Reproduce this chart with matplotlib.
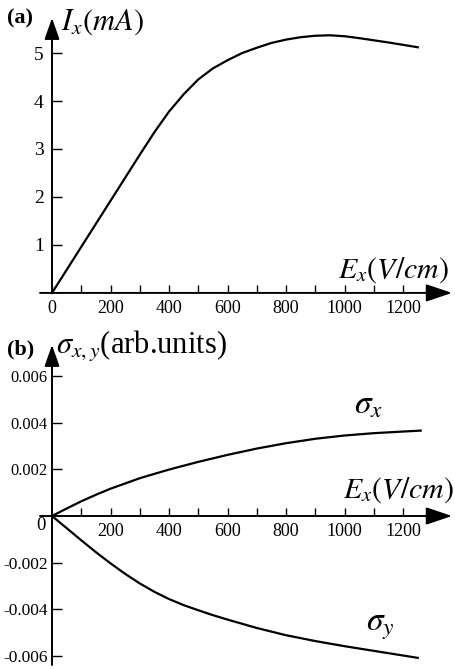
import matplotlib
matplotlib.use("Agg")
import matplotlib.pyplot as plt

plt.rcParams['font.family'] = ['Liberation Serif', 'DejaVu Serif']
plt.rcParams['mathtext.fontset'] = 'stix'

# Panel (a): current vs. field
field_a = [0, 50, 100, 150, 200, 250, 300, 350, 400, 450, 500, 550, 600, 650, 700,
           750, 800, 850, 900, 950, 1000, 1050, 1100, 1150, 1200, 1250]
current = [0, 0.48, 0.96, 1.44, 1.92, 2.40, 2.88, 3.35, 3.78, 4.14, 4.45, 4.68, 4.85,
           5.00, 5.11, 5.21, 5.28, 5.33, 5.36, 5.37, 5.35, 5.31, 5.265, 5.22, 5.17, 5.12]

# Panel (b): conductivities vs. field
field_bx = [0, 50, 100, 150, 200, 300, 400, 500, 600, 700, 800, 900, 1000, 1100, 1200, 1260]
sigma_x = [0, 0.00032, 0.00063, 0.00091, 0.00117, 0.00162, 0.00199, 0.00232, 0.00262,
           0.00289, 0.00312, 0.00331, 0.00345, 0.00355, 0.00362, 0.00366]
field_by = [0, 50, 100, 150, 200, 250, 300, 350, 400, 450, 500, 550, 600, 700, 800,
            900, 1000, 1100, 1200, 1250]
sigma_y = [0, -0.00052, -0.00104, -0.00155, -0.00203, -0.00248, -0.00289, -0.00325,
           -0.00356, -0.00382, -0.00404, -0.00425, -0.00444, -0.00480, -0.00511,
           -0.00536, -0.00558, -0.00578, -0.00598, -0.00608]

xticks_major = [0, 200, 400, 600, 800, 1000, 1200]
xticks_minor = [100, 300, 500, 700, 900, 1100]
yticks_a = [1, 2, 3, 4, 5]
yticks_b = [-0.006, -0.004, -0.002, 0.002, 0.004, 0.006]
yticklabels_b = ['-0.006', '-0.004', '-0.002', '0.002', '0.004', '0.006']

W, H = 456, 670
fig = plt.figure(figsize=(W / 100, H / 100), dpi=100)


def px_axes(x0, x1, ytop, ybot):
    return fig.add_axes([x0 / W, 1 - ybot / H, (x1 - x0) / W, (ybot - ytop) / H])


def fig_text(x, y, s, **kw):
    fig.text(x / W, 1 - y / H, s, **kw)


XLIM = (-41, 1367)
LW_AX = 1.4
ARROW_X = dict(arrowstyle='-|>,head_length=0.8,head_width=0.27', mutation_scale=20,
               lw=LW_AX, color='k', shrinkA=0, shrinkB=0)
ARROW_Y = dict(arrowstyle='-|>,head_length=0.65,head_width=0.23', mutation_scale=20,
               lw=LW_AX, color='k', shrinkA=0, shrinkB=0)


def style_axes(ax, ylim, ybottom):
    ax.set_xlim(*XLIM)
    ax.set_ylim(*ylim)
    for s in ('top', 'right'):
        ax.spines[s].set_visible(False)
    ax.patch.set_alpha(0)
    # axis lines with arrowheads
    ax.annotate('', xy=(XLIM[1], 0), xytext=(XLIM[0], 0), arrowprops=ARROW_X,
                annotation_clip=False)
    ax.annotate('', xy=(0, ylim[1]), xytext=(0, ybottom), arrowprops=ARROW_Y,
                annotation_clip=False)
    ax.spines['left'].set_position(('data', 0))
    ax.spines['bottom'].set_position(('data', 0))
    ax.spines['left'].set_visible(False)
    ax.spines['bottom'].set_visible(False)
    ax.set_xticks(xticks_minor, minor=True)
    ax.tick_params(axis='x', which='both', direction='in', length=6, width=1.0,
                   labelsize=13, pad=5)
    ax.tick_params(axis='y', which='both', direction='in', length=7, width=1.0)


# ---- panel (a)
ax_a = px_axes(40, 452, 18, 303)
style_axes(ax_a, (-0.21, 5.73), 0)
ax_a.plot(field_a, current, color='k', lw=1.6)
ax_a.set_xticks(xticks_major)
ax_a.set_xticklabels([str(v) for v in xticks_major])
ax_a.set_yticks(yticks_a)
ax_a.set_yticklabels([str(v) for v in yticks_a])
ax_a.tick_params(axis='y', labelsize=14, pad=6)

fig_text(7, 23, '(a)', fontsize=16, fontweight='bold', va='baseline')
fig_text(61, 30, r'$I_x(mA)$', fontsize=22, va='baseline')
fig_text(338, 278, r'$E_x(V/cm)$', fontsize=21.5, va='baseline')

# ---- panel (b)
y0_px, scale = 516.0, 23333.0
top_b, bot_b = 345, 665
ax_b = px_axes(40, 452, top_b, bot_b)
style_axes(ax_b, (-(bot_b - y0_px) / scale, (y0_px - top_b) / scale),
           -(bot_b - y0_px) / scale)
ax_b.plot(field_bx, sigma_x, color='k', lw=1.6)
ax_b.plot(field_by, sigma_y, color='k', lw=1.6)
ax_b.set_xticks(xticks_major[1:])
ax_b.set_xticklabels([str(v) for v in xticks_major[1:]])
ax_b.set_yticks(yticks_b)
ax_b.set_yticklabels(yticklabels_b)
ax_b.tick_params(axis='y', pad=3)
for lab, v in zip(ax_b.get_yticklabels(), yticks_b):
    lab.set_fontsize(12.5 if v < 0 else 11.8)

fig_text(36, 526, '0', fontsize=13.5, va='center')
fig_text(7, 354, '(b)', fontsize=16, fontweight='bold', va='baseline')
fig_text(56, 354, r'$\sigma_{x,y}$(arb.units)', fontsize=22, va='baseline')
fig_text(343, 498, r'$E_x(V/cm)$', fontsize=21.5, va='baseline')
fig_text(354, 413, r'$\sigma_x$', fontsize=24, va='baseline')
fig_text(366, 631, r'$\sigma_y$', fontsize=24, va='baseline')

fig.savefig('out.png', dpi=100)
